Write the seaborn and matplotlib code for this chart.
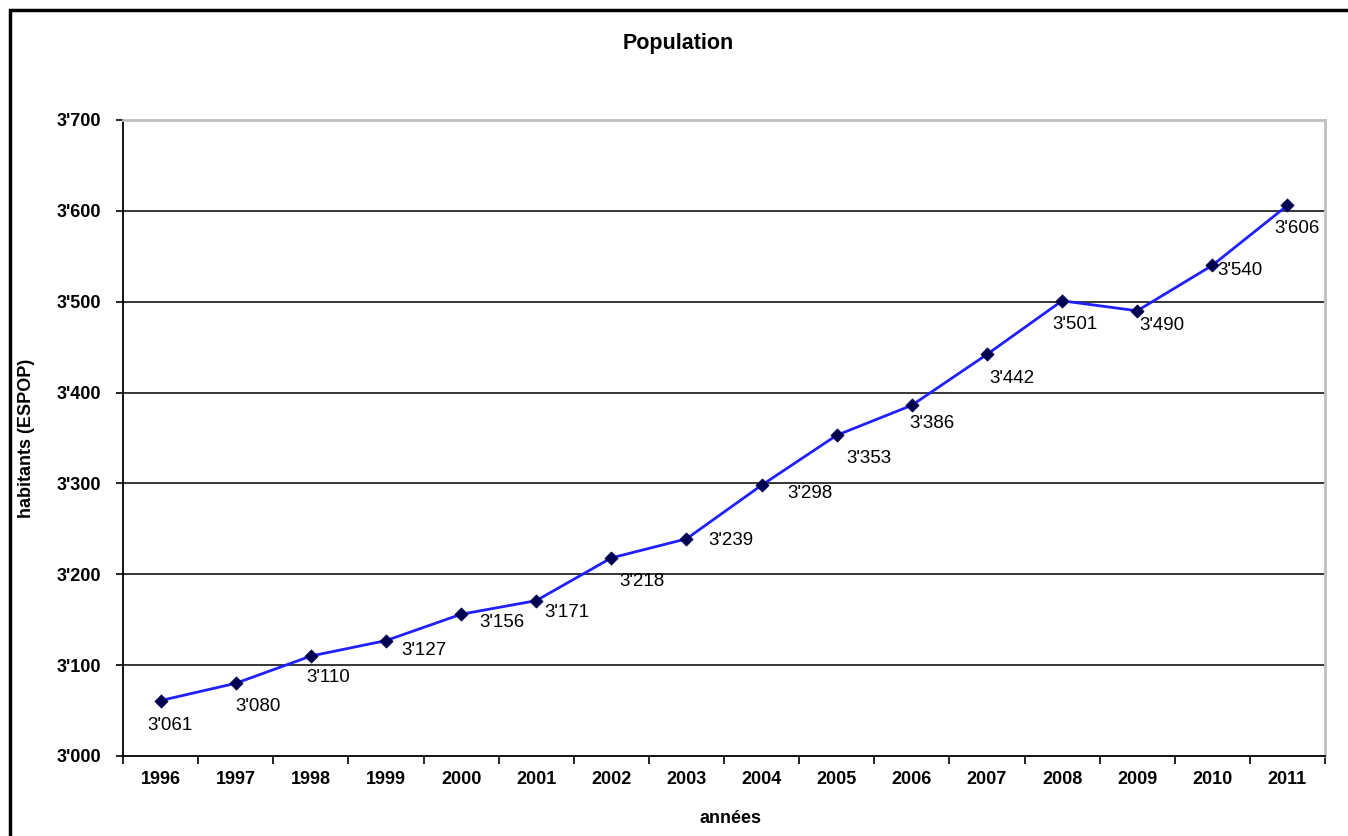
import numpy as np
import pandas as pd
import matplotlib
matplotlib.use("Agg")
import matplotlib.pyplot as plt
import seaborn as sns
from matplotlib.patches import Rectangle
from matplotlib.ticker import FuncFormatter, FixedLocator

# Data
years = [1996, 1997, 1998, 1999, 2000, 2001, 2002, 2003,
         2004, 2005, 2006, 2007, 2008, 2009, 2010, 2011]
population = [3061, 3080, 3110, 3127, 3156, 3171, 3218, 3239,
              3298, 3353, 3386, 3442, 3501, 3490, 3540, 3606]

# Label offsets in pixels (dx, dy) relative to each point
label_offsets = [(9, -25), (22, -23), (17, -21), (38, -10), (41, -8), (31, -12),
                 (31, -24), (44, -2), (48, -8), (32, -23), (20, -18), (25, -24),
                 (13, -24), (25, -15), (28, -5), (10, -23)]

sns.set_theme(style="white")
plt.rcParams["font.family"] = ["Liberation Sans", "DejaVu Sans"]
plt.rcParams["text.color"] = "black"
plt.rcParams["axes.labelcolor"] = "black"
plt.rcParams["xtick.color"] = "black"
plt.rcParams["ytick.color"] = "black"

df = pd.DataFrame({"idx": np.arange(len(years)), "pop": population})

fig = plt.figure(figsize=(13.48, 8.36), dpi=100)
ax = fig.add_axes([123 / 1348, 1 - 756 / 836, (1325 - 123) / 1348, (756 - 120) / 836])

# horizontal gridlines
for v in range(3100, 3700, 100):
    ax.axhline(v, color="black", lw=1.1, zorder=1)

sns.lineplot(data=df, x="idx", y="pop", color="#2020ff", lw=2, ax=ax, zorder=3)
sns.scatterplot(data=df, x="idx", y="pop", marker="D", s=45, color="#000050",
                edgecolor="#000050", ax=ax, zorder=4)

for i, (v, (dx, dy)) in enumerate(zip(population, label_offsets)):
    ax.annotate(f"3'{v - 3000:03d}", (i, v), xytext=(dx * 0.72, dy * 0.72),
                textcoords="offset points", ha="center", va="center",
                fontsize=13.5, color="black")

ax.set_xlim(-0.5, len(years) - 0.5)
ax.set_ylim(3000, 3700)
ax.yaxis.set_major_locator(FixedLocator(range(3000, 3701, 100)))
ax.yaxis.set_major_formatter(FuncFormatter(lambda v, p: f"{int(v) // 1000}'{int(v) % 1000:03d}"))

ax.xaxis.set_major_locator(FixedLocator(np.arange(-0.5, len(years), 1.0)))
ax.xaxis.set_major_formatter(FuncFormatter(lambda v, p: ""))
ax.set_xticks(np.arange(len(years)), minor=True)
ax.set_xticklabels([str(y) for y in years], minor=True, fontsize=13)
ax.tick_params(axis="x", which="minor", length=0, pad=11)
ax.tick_params(axis="x", which="major", direction="out", length=6, width=1.2,
               color="black", bottom=True)
ax.tick_params(axis="y", which="major", direction="out", length=5, width=1.2,
               color="black", left=True, labelsize=13, pad=11)
for lab in ax.get_yticklabels():
    lab.set_fontweight("bold")
for lab in ax.get_xticklabels(minor=True):
    lab.set_fontweight("bold")

ax.spines["left"].set_color("black")
ax.spines["left"].set_linewidth(1.3)
ax.spines["bottom"].set_color("black")
ax.spines["bottom"].set_linewidth(1.3)
ax.spines["top"].set_color("#c0c0c0")
ax.spines["top"].set_linewidth(2)
ax.spines["right"].set_color("#c0c0c0")
ax.spines["right"].set_linewidth(2)

ax.set_xlabel("années", fontsize=13, fontweight="bold")
ax.xaxis.set_label_coords((730 - 123) / 1202, -(810 - 756) / 636)
ax.set_ylabel("habitants (ESPOP)", fontsize=13, fontweight="bold")
ax.yaxis.set_label_coords((35 - 123) / 1202, (756 - 438) / 636)
fig.text(678 / 1348, 1 - 44 / 836, "Population", ha="center", va="center",
         fontsize=15.5, fontweight="bold")

# outer chart frame
fig.patches.append(Rectangle((10 / 1348, -0.01), 1.02, 1 - 10 / 836 + 0.01,
                             transform=fig.transFigure, fill=False,
                             edgecolor="black", lw=2.5))

fig.savefig("out.png", dpi=100)
